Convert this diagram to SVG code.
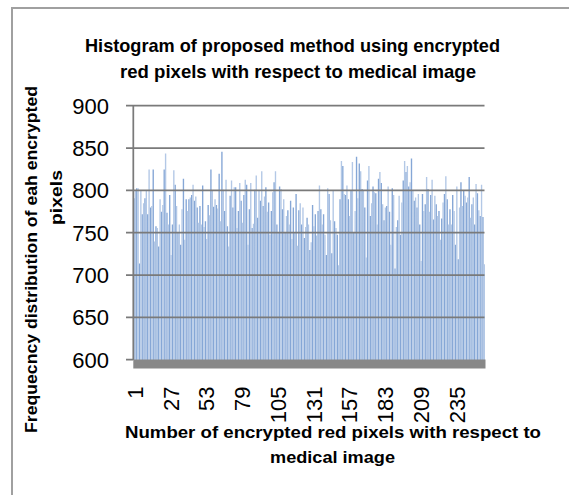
<svg xmlns="http://www.w3.org/2000/svg" width="569" height="495" viewBox="0 0 569 495">
<style>
.t{font-family:"Liberation Sans",Arial,sans-serif;fill:#000}
.b{font-weight:bold}
.tick{font-size:22px}
.grid{stroke:#7a7a7a;stroke-width:1.75;fill:none}
</style>
<rect x="12" y="8" width="620" height="560" fill="#ffffff" stroke="#a0a0a0" stroke-width="2"/>
<g id="title">
<text class="t b" x="85" y="52" font-size="19" textLength="415" lengthAdjust="spacingAndGlyphs">Histogram of proposed method using encrypted</text>
<text class="t b" x="120" y="78" font-size="19" textLength="356" lengthAdjust="spacingAndGlyphs">red pixels with respect to medical image</text>
</g>
<g id="bars" transform="translate(133.3,360) scale(1.3738,-0.84667)">
<path fill="#86a7d6" d="M0 0v191h1V0M2 0v203h1V0M4 0v114h1V0M6 0v172h1V0M8 0v191h1V0M10 0v172h1V0M12 0v180h1V0M14 0v225h1V0M16 0v158h1V0M18 0v134h1V0M20 0v175h1V0M22 0v225h1V0M24 0v174h1V0M26 0v195h1V0M28 0v160h1V0M30 0v207h1V0M32 0v150h1V0M34 0v136h1V0M36 0v214h1V0M38 0v190h1V0M40 0v190h1V0M42 0v195h1V0M44 0v188h1V0M46 0v180h1V0M48 0v182h1V0M50 0v206h1V0M52 0v164h1V0M54 0v183h1V0M56 0v225h1V0M58 0v181h1V0M60 0v183h1V0M62 0v220h1V0M64 0v246h1V0M66 0v176h1V0M68 0v158h1V0M70 0v194h1V0M72 0v180h1V0M74 0v204h1V0M76 0v176h1V0M78 0v188h1V0M80 0v195h1V0M82 0v207h1V0M84 0v178h1V0M86 0v156h1V0M88 0v201h1V0M90 0v168h1V0M92 0v188h1V0M94 0v182h1V0M96 0v204h1V0M98 0v186h1V0M100 0v176h1V0M102 0v210h1V0M104 0v160h1V0M106 0v205h1V0M108 0v178h1V0M110 0v150h1V0M112 0v177h1V0M114 0v188h1V0M116 0v180h1V0M118 0v196h1V0M120 0v177h1V0M122 0v160h1V0M124 0v144h1V0M126 0v168h1V0M128 0v130h1V0M130 0v183h1V0M132 0v172h1V0M134 0v176h1V0M136 0v178h1V0M138 0v172h1V0M140 0v124h1V0M142 0v196h1V0M144 0v126h1V0M146 0v164h1V0M148 0v148h1V0M150 0v190h1V0M152 0v229h1V0M154 0v195h1V0M156 0v190h1V0M158 0v200h1V0M160 0v150h1V0M162 0v240h1V0M164 0v232h1V0M166 0v202h1V0M168 0v180h1V0M170 0v212h1V0M172 0v170h1V0M174 0v205h1V0M176 0v197h1V0M178 0v214h1V0M180 0v209h1V0M182 0v165h1V0M184 0v182h1V0M186 0v175h1V0M188 0v203h1V0M190 0v108h1V0M192 0v165h1V0M194 0v148h1V0M196 0v212h1V0M198 0v222h1V0M200 0v205h1V0M202 0v238h1V0M204 0v188h1V0M206 0v180h1V0M208 0v160h1V0M210 0v196h1V0M212 0v184h1V0M214 0v202h1V0M216 0v195h1V0M218 0v166h1V0M220 0v184h1V0M222 0v176h1V0M224 0v167h1V0M226 0v196h1V0M228 0v190h1V0M230 0v178h1V0M232 0v195h1V0M234 0v136h1V0M236 0v119h1V0M238 0v210h1V0M240 0v200h1V0M242 0v186h1V0M244 0v216h1V0M246 0v184h1V0M248 0v160h1V0M250 0v197h1V0M252 0v170h1V0M254 0v169h1V0"/>
<path fill="#b3c8e6" d="M1 0v200h1V0M3 0v203h1V0M5 0v200h1V0M7 0v185h1V0M9 0v200h1V0M11 0v225h1V0M13 0v182h1V0M15 0v140h1V0M17 0v156h1V0M19 0v190h1V0M21 0v183h1V0M23 0v244h1V0M25 0v160h1V0M27 0v124h1V0M29 0v224h1V0M31 0v182h1V0M33 0v160h1V0M35 0v178h1V0M37 0v142h1V0M39 0v176h1V0M41 0v192h1V0M43 0v207h1V0M45 0v193h1V0M47 0v162h1V0M49 0v160h1V0M51 0v157h1V0M53 0v143h1V0M55 0v171h1V0M57 0v200h1V0M59 0v190h1V0M61 0v179h1V0M63 0v164h1V0M65 0v201h1V0M67 0v213h1V0M69 0v134h1V0M71 0v212h1V0M73 0v204h1V0M75 0v156h1V0M77 0v209h1V0M79 0v162h1V0M81 0v213h1V0M83 0v136h1V0M85 0v209h1V0M87 0v161h1V0M89 0v218h1V0M91 0v200h1V0M93 0v223h1V0M95 0v193h1V0M97 0v175h1V0M99 0v148h1V0M101 0v198h1V0M103 0v223h1V0M105 0v150h1V0M107 0v202h1V0M109 0v190h1V0M111 0v170h1V0M113 0v160h1V0M115 0v143h1V0M117 0v150h1V0M119 0v135h1V0M121 0v185h1V0M123 0v180h1V0M125 0v157h1V0M127 0v160h1V0M129 0v139h1V0M131 0v158h1V0M133 0v147h1V0M135 0v206h1V0M137 0v160h1V0M139 0v148h1V0M141 0v203h1V0M143 0v165h1V0M145 0v200h1V0M147 0v156h1V0M149 0v112h1V0M151 0v235h1V0M153 0v196h1V0M155 0v206h1V0M157 0v170h1V0M159 0v234h1V0M161 0v176h1V0M163 0v191h1V0M165 0v223h1V0M167 0v200h1V0M169 0v121h1V0M171 0v229h1V0M173 0v185h1V0M175 0v198h1V0M177 0v160h1V0M179 0v222h1V0M181 0v184h1V0M183 0v180h1V0M185 0v205h1V0M187 0v136h1V0M189 0v195h1V0M191 0v157h1V0M193 0v194h1V0M195 0v186h1V0M197 0v235h1V0M199 0v229h1V0M201 0v210h1V0M203 0v200h1V0M205 0v192h1V0M207 0v196h1V0M209 0v117h1V0M211 0v176h1V0M213 0v216h1V0M215 0v175h1V0M217 0v213h1V0M219 0v194h1V0M221 0v170h1V0M223 0v142h1V0M225 0v186h1V0M227 0v217h1V0M229 0v160h1V0M231 0v160h1V0M233 0v176h1V0M235 0v205h1V0M237 0v180h1V0M239 0v182h1V0M241 0v194h1V0M243 0v192h1V0M245 0v168h1V0M247 0v192h1V0M249 0v208h1V0M251 0v177h1V0M253 0v207h1V0M255 0v113h1V0"/>
</g>
<g id="gridlines">
<path class="grid" d="M126 105.7H484.5M126 148H484.5M126 190.3H484.5M126 232.7H484.5M126 275H484.5M126 317.3H484.5M126 359.7H133.3"/>
<path class="grid" d="M133.3 105.7V360"/>
<rect x="133.3" y="359.5" width="352.2" height="9" fill="#888888"/>
</g>
<g id="y-ticks" class="t tick" text-anchor="end">
<text x="109" y="113.6">900</text>
<text x="109" y="155.9">850</text>
<text x="109" y="198.2">800</text>
<text x="109" y="240.6">750</text>
<text x="109" y="282.9">700</text>
<text x="109" y="325.2">650</text>
<text x="109" y="367.6">600</text>
</g>
<g id="x-ticks" class="t tick" text-anchor="end">
<text transform="translate(142.9,386.5) rotate(-90)">1</text>
<text transform="translate(178.65,386.5) rotate(-90)">27</text>
<text transform="translate(214.4,386.5) rotate(-90)">53</text>
<text transform="translate(250.15,386.5) rotate(-90)">79</text>
<text transform="translate(285.9,386.5) rotate(-90)">105</text>
<text transform="translate(321.65,386.5) rotate(-90)">131</text>
<text transform="translate(357.4,386.5) rotate(-90)">157</text>
<text transform="translate(393.15,386.5) rotate(-90)">183</text>
<text transform="translate(428.9,386.5) rotate(-90)">209</text>
<text transform="translate(464.65,386.5) rotate(-90)">235</text>
</g>
<g id="y-title" class="t b" font-size="17">
<text transform="translate(37,433) rotate(-90)" textLength="347" lengthAdjust="spacingAndGlyphs">Frequecncy distribution of eah encrypted</text>
<text transform="translate(62,225) rotate(-90)" textLength="55" lengthAdjust="spacingAndGlyphs">pixels</text>
</g>
<g id="x-title" class="t b" font-size="17">
<text x="125" y="438" textLength="416" lengthAdjust="spacingAndGlyphs">Number of encrypted red pixels with respect to</text>
<text x="270" y="463" textLength="125" lengthAdjust="spacingAndGlyphs">medical image</text>
</g>
</svg>
